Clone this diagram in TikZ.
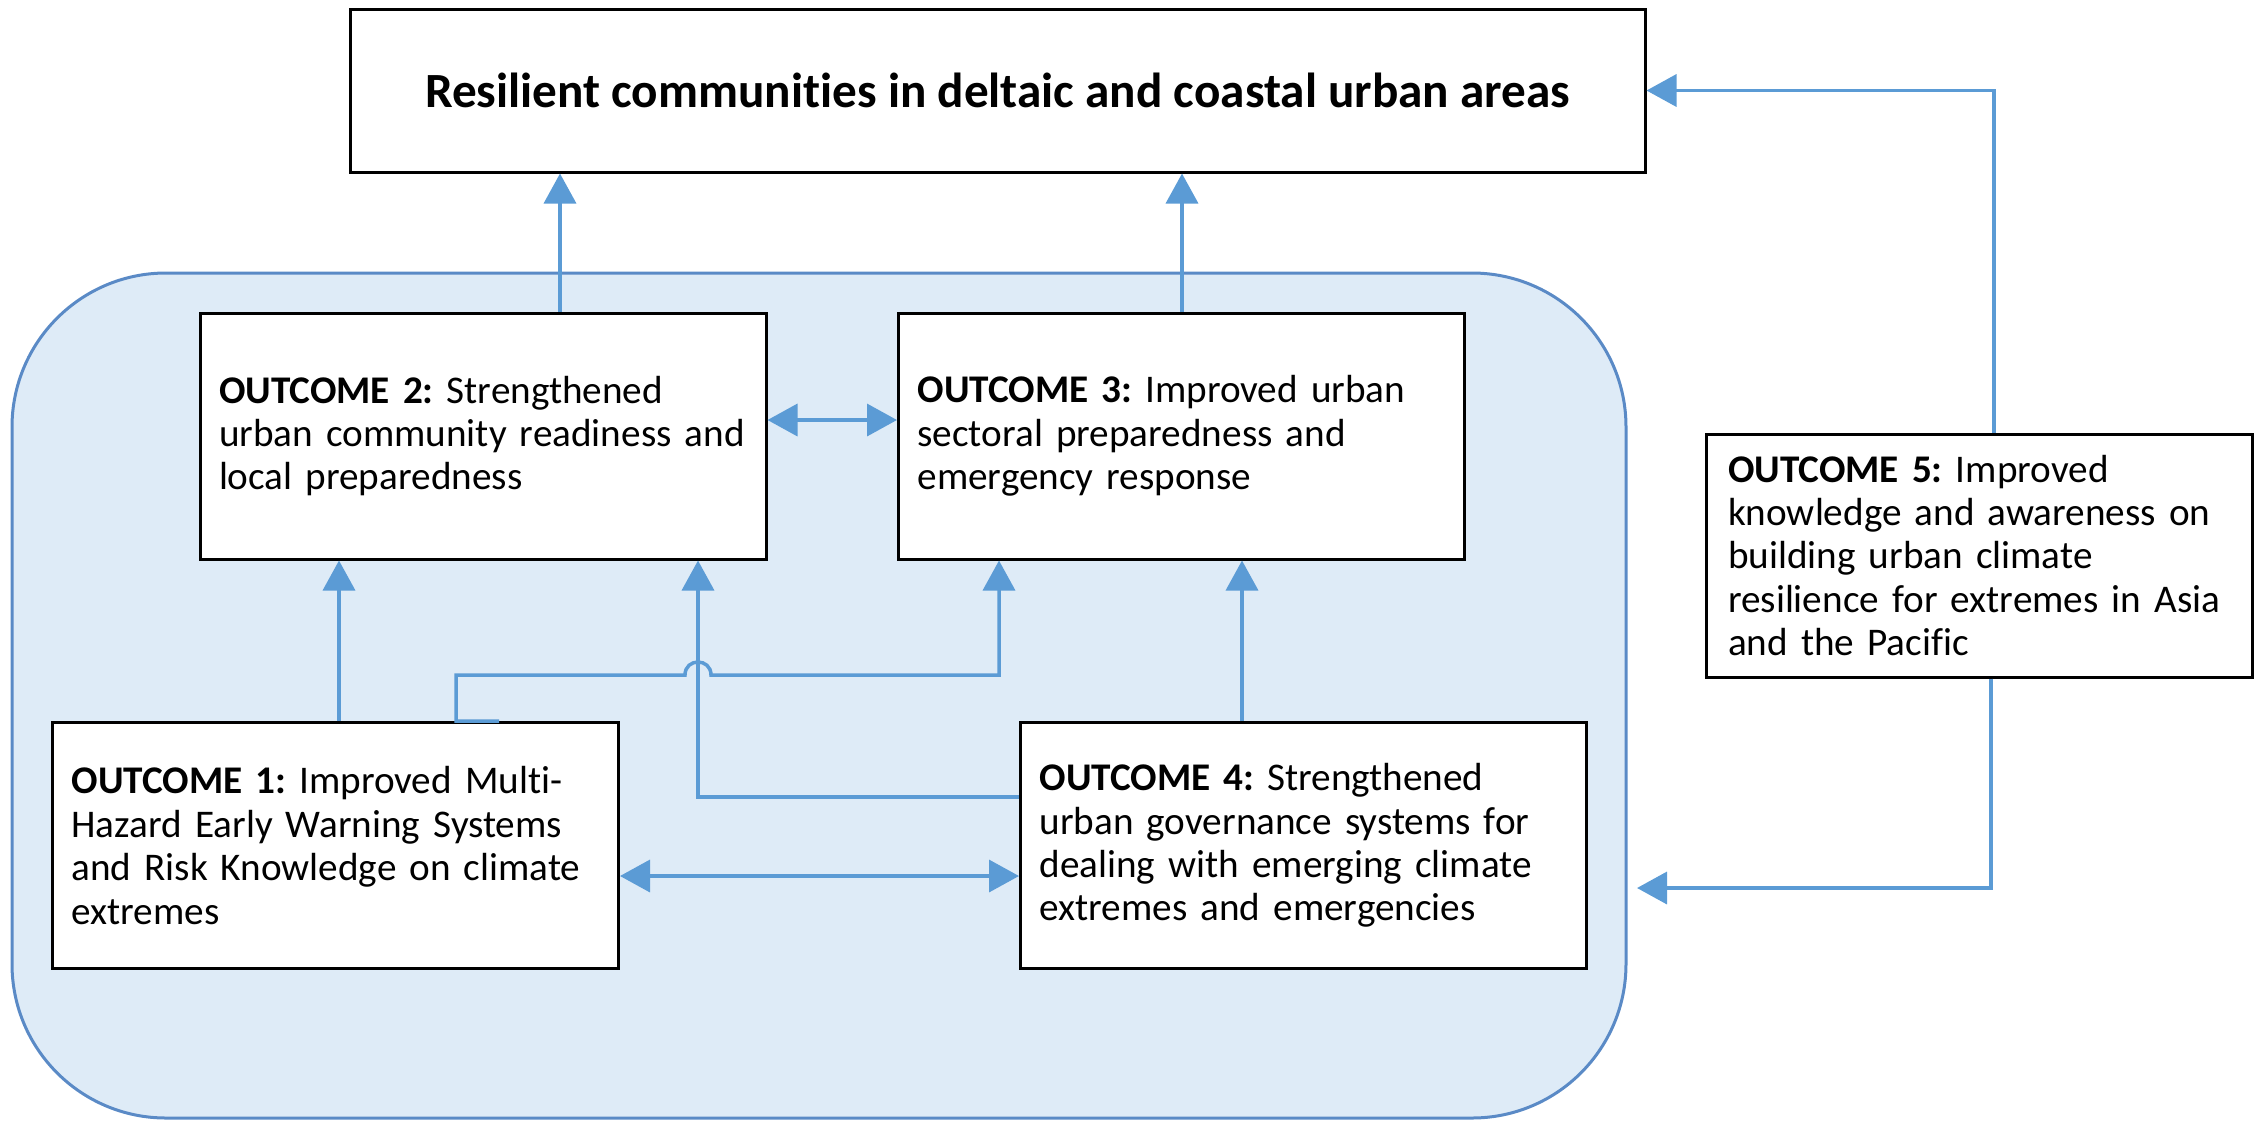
\documentclass[tikz,border=0pt]{standalone}
\usepackage{fontspec}
\setmainfont{Carlito}[Ligatures=NoCommon]
\usepackage{tikz}
\usetikzlibrary{arrows.meta,calc}
\definecolor{okMavi}{HTML}{5B9BD5}
\definecolor{zeminMavi}{HTML}{DEEBF7}
\definecolor{kenarMavi}{HTML}{5A8AC6}
\frenchspacing

\begin{document}
\begin{tikzpicture}[x=0.5pt,y=-0.5pt,
  kutu/.style={draw=black,line width=1.5pt,fill=white,text width=#1,
    inner xsep=9.5pt,inner ysep=0pt,minimum height=123pt,font=\fontsize{19.6}{21.7}\selectfont,
    execute at begin node={\rightskip=0pt plus 1fil minus 3em\parindent=0pt}},
  kutu/.default=264pt,
  ok/.style={draw=okMavi,line width=1.75pt,-{Triangle[length=15pt,width=16pt]}},
  cift/.style={ok,{Triangle[length=15pt,width=16pt]}-{Triangle[length=15pt,width=16pt]}}]
\useasboundingbox (0,0) rectangle (2260,1121);
\node[draw=kenarMavi,line width=1.5pt,fill=zeminMavi,rounded corners=77pt,inner sep=0pt,
  minimum width=807pt,minimum height=422.5pt] (alan) at (819,695.5) {};
\node[draw=black,line width=1.5pt,fill=white,minimum width=647.5pt,minimum height=81.5pt,
  font=\fontsize{24.6}{30}\selectfont\bfseries] (hedef) at (997.5,90.5)
  {Resilient communities in deltaic and coastal urban areas};
\node[kutu] (c2) at (483,436) {\textbf{OUTCOME 2:} Strengthened\\urban community readiness and\\local preparedness};
\node[kutu] (c3) at (1181.5,436) {\textbf{OUTCOME 3:} Improved urban\\sectoral preparedness and\\emergency response};
\node[kutu] (c1) at (335.5,845.5) {\textbf{OUTCOME 1:} Improved Multi-\\Hazard Early Warning Systems\\and Risk Knowledge on climate\\extremes};
\node[kutu] (c4) at (1303.5,845.5) {\textbf{OUTCOME 4:} Strengthened\\urban governance systems for\\dealing with emerging climate\\extremes and emergencies};
\node[kutu=251pt,inner xsep=11pt,minimum height=121.5pt] (c5) at (1979,555.5) {\textbf{OUTCOME 5:} Improved\\knowledge and awareness on\\building urban climate\\resilience for extremes in Asia\\and the Pacific};
\coordinate (giris) at (1637,888);
\draw[ok] (560,0 |- c2.north) -- (560,0 |- hedef.south);
\draw[ok] (1182,0 |- c3.north) -- (1182,0 |- hedef.south);
\draw[cift] (c2.east |- 0,420) -- (c3.west |- 0,420);
\draw[ok] (339,0 |- c1.north) -- (339,0 |- c2.south);
\draw[ok] (1242,0 |- c4.north) -- (1242,0 |- c3.south);
\draw[cift] (c1.east |- 0,876) -- (c4.west |- 0,876);
\draw[ok] (c4.west |- 0,797) -- (698,797) -- (698,0 |- c2.south);
\draw[ok] (499,0 |- c1.north) -- (456,0 |- c1.north) -- (456,675) -- (685,675)
  .. controls (685,657.7) and (711,657.7) .. (711,675) -- (999,675) -- (999,0 |- c3.south);
\draw[ok] (1994,0 |- c5.north) |- (hedef.east);
\draw[ok] (1991,0 |- c5.south) |- (giris);
\end{tikzpicture}
\end{document}
